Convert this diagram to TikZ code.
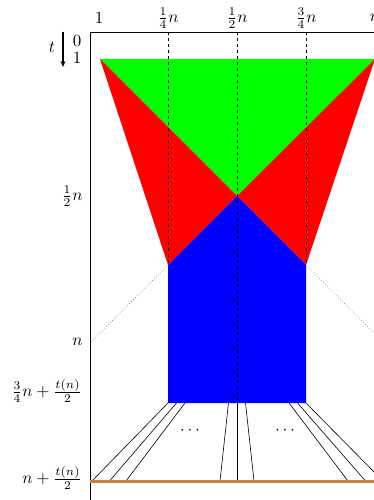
\documentclass[tikz,border=0pt]{standalone}
\usetikzlibrary{arrows.meta}
\definecolor{mygreen}{RGB}{0,255,0}
\definecolor{myred}{RGB}{255,0,0}
\definecolor{myblue}{RGB}{0,0,255}
\definecolor{mybrown}{RGB}{200,130,62}
\begin{document}
\begin{tikzpicture}[x=1pt,y=-1pt,
  lbl/.style={inner sep=0pt,scale=1.7},
  frameline/.style={line width=0.9pt},
  guide/.style={dashed,line width=0.8pt},
  hint/.style={dotted,gray,line width=0.7pt},
  wire/.style={line width=0.6pt},
  floor/.style={mybrown,line width=3pt}]
\useasboundingbox (0,0) rectangle (374,500);
% coordinates
\coordinate (TL) at (100,59);
\coordinate (TR) at (375,59);
\coordinate (C) at (237,196);
\coordinate (BL) at (168,265);
\coordinate (BR) at (306,265);
\coordinate (QL) at (168,403);
\coordinate (QR) at (306,403);
\coordinate (M) at (237,403);
% regions
\fill[mygreen] (TL) -- (TR) -- (C) -- cycle;
\fill[myred] (TL) -- (C) -- (BL) -- cycle;
\fill[myred] (TR) -- (C) -- (BR) -- cycle;
\fill[myblue] (BL) -- (C) -- (BR) -- (QR) -- (QL) -- cycle;
% frame
\coordinate (F0) at (90,500);
\coordinate (F1) at (90,32);
\coordinate (F2) at (390,32);
\draw[frameline] (F0) -- (F1) -- (F2);
% dashed guides
\coordinate (D1) at (168,32);
\coordinate (D2) at (237,32);
\coordinate (D3) at (306,32);
\draw[guide] (D1) -- (BL);
\draw[guide] (D2) -- (M);
\draw[guide] (D3) -- (BR);
% dotted extensions
\coordinate (E1) at (90,343);
\coordinate (E2) at (384,343);
\draw[hint] (BL) -- (E1);
\draw[hint] (BR) -- (E2);
% wires
\foreach \a/\b in {168/92,176.5/109.5,185/126,228.5/220,237/237,245.5/254,289/348,297.5/365.5,306/383}{
  \coordinate (wa) at (\a,403);
  \coordinate (wb) at (\b,481);
  \draw[wire] (wa) -- (wb);
}
\node[lbl] (dl) at (190,431) {$\cdots$};
\node[lbl] (dr) at (285,431) {$\cdots$};
% floor
\coordinate (G0) at (90,481);
\coordinate (G1) at (390,481);
\draw[floor] (G0) -- (G1);
% top labels
\node[lbl] (x1) at (99,18) {$1$};
\node[lbl] (x2) at (168,18) {$\frac14 n$};
\node[lbl] (x3) at (237,18) {$\frac12 n$};
\node[lbl] (x4) at (306,18) {$\frac34 n$};
\node[lbl] (x5) at (375,18) {$n$};
% time axis
\coordinate (A0) at (63,32);
\coordinate (A1) at (63,67);
\draw[line width=1.1pt,-{Stealth[length=6pt,width=5pt]}] (A0) -- (A1);
\node[lbl] (tl) at (52,47) {$t$};
\node[lbl] (t0) at (77,41) {$0$};
\node[lbl] (t1) at (77,58) {$1$};
\node[lbl,anchor=east] (yh) at (83,196) {$\frac12 n$};
\node[lbl,anchor=east] (yn) at (83,342) {$n$};
\node[lbl,anchor=east] (yq) at (82,391) {$\frac34 n+\frac{t(n)}{2}$};
\node[lbl,anchor=east] (yb) at (82,478) {$n+\frac{t(n)}{2}$};
\end{tikzpicture}
\end{document}
